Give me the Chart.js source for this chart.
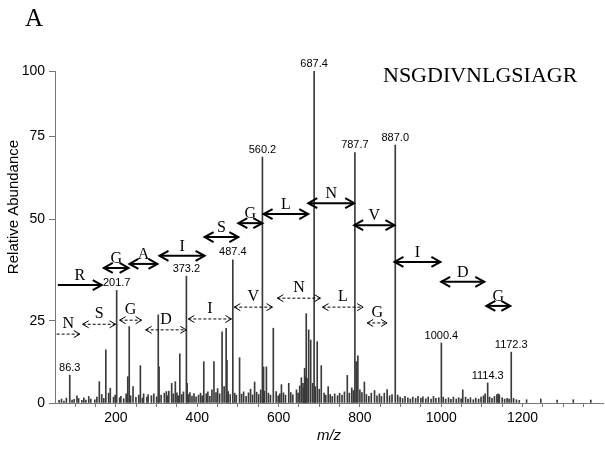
<!DOCTYPE html>
<html>
<head>
<meta charset="utf-8">
<script src="https://cdn.jsdelivr.net/npm/chart.js@4"></script>
<style>
  html, body { margin: 0; padding: 0; background: #fff; }
  canvas { display: block; }
</style>
</head>
<body>
<canvas id="spectrum" width="605" height="449"></canvas>
<script>
// Peptide MS/MS spectrum, panel A

var sequence = 'NSGDIVNLGSIAGR';

// y ticks as printed; the printed axis is uneven, so each tick gets its own spot
var yTickValues = [0, 25, 50, 75, 100];
var xLabelValues = [200, 400, 600, 800, 1000, 1200];

// [m/z, relative abundance]
var peakList = [
  [86.3, 8.5], [159, 6.5], [175, 16.2], [186, 4.5], [201.7, 32.5], [229, 8],
  [232.6, 23.3], [242, 5], [260, 11.4], [304, 26.5], [306, 11], [324, 3.5],
  [337, 6], [346, 6.5], [357, 15], [373.2, 36], [375, 6], [416, 12.6],
  [441, 12.6], [461, 21.7], [471, 22.8], [473, 13], [487.4, 40], [504, 13.8],
  [541, 6.4], [560.2, 68.7], [563, 11], [570, 11], [587, 22.8], [607, 5.6],
  [625, 6], [656, 7.7], [664, 10.6], [668, 26.8], [674, 22.3], [679, 19.2],
  [687.4, 100], [695, 18.7], [705, 11.4], [722, 5], [769, 8.4], [787.7, 70],
  [791, 12.6], [795, 14.4], [811, 6.4], [836, 3.8], [867, 4.1], [887.0, 72.3],
  [1000.4, 18.3], [1053, 4], [1114.3, 6.1], [1143, 2.5], [1172.3, 15.5]
];

// low level background peaks
var noiseList = [
  [60, 0.8], [66, 1.2], [72, 0.6], [78, 1.5], [92, 0.9], [97, 1.1], [104, 2.2],
  [108, 1.4], [116, 0.8], [121, 1.6], [126, 0.9], [133, 2.0], [138, 1.2], [148, 1.0],
  [153, 1.8], [165, 2.6], [170, 1.4], [182, 3.0], [194, 1.8], [198, 2.4], [209, 1.6],
  [212, 2.0], [219, 1.3], [225, 2.8], [236, 2.2], [249, 1.7], [256, 2.4], [265, 1.5],
  [268, 2.8], [276, 1.8], [279, 2.6], [287, 2.2], [293, 2.8], [300, 1.9], [311, 2.4],
  [319, 3.0], [327, 2.2], [330, 3.6], [341, 2.8], [350, 3.1], [353, 2.2], [362, 2.6],
  [366, 3.4], [378, 2.6], [382, 3.2], [387, 2.1], [392, 2.9], [397, 1.9], [403, 2.4],
  [408, 3.0], [412, 2.2], [422, 2.8], [426, 3.4], [431, 2.0], [436, 4.0], [446, 3.2],
  [450, 4.4], [455, 2.8], [466, 5.0], [476, 3.5], [481, 2.6], [492, 3.0], [496, 2.4],
  [509, 2.7], [514, 3.4], [520, 2.0], [526, 3.1], [531, 4.2], [536, 2.5], [546, 3.3],
  [551, 2.6], [556, 4.0], [565, 3.6], [575, 3.0], [580, 2.4], [594, 3.5], [599, 2.2],
  [603, 2.8], [612, 3.1], [617, 2.4], [630, 3.2], [635, 2.5], [644, 4.0], [648, 3.0],
  [652, 5.2], [660, 6.0], [662, 4.5], [666, 8.0], [670, 7.5], [684, 6.0], [690, 5.0],
  [700, 4.2], [712, 3.0], [716, 2.4], [727, 2.6], [732, 2.0], [738, 2.8], [745, 2.2],
  [750, 3.0], [756, 2.4], [762, 3.4], [774, 3.0], [780, 4.6], [784, 3.8], [800, 4.0],
  [805, 3.2], [816, 2.6], [822, 2.0], [828, 3.0], [842, 2.2], [848, 2.8], [853, 2.0],
  [860, 3.0], [873, 2.2], [879, 2.6], [893, 2.4], [899, 1.8], [905, 1.4], [911, 2.0],
  [918, 1.6], [924, 1.2], [930, 1.8], [937, 1.4], [943, 2.0], [950, 1.5], [955, 1.9],
  [962, 1.3], [968, 1.8], [975, 1.2], [981, 2.0], [987, 1.4], [994, 1.6], [1005, 1.8],
  [1011, 1.2], [1018, 1.6], [1024, 1.1], [1030, 1.8], [1037, 1.2], [1043, 1.6],
  [1049, 1.3], [1060, 1.8], [1066, 1.2], [1072, 1.6], [1079, 1.0], [1085, 1.5],
  [1092, 1.2], [1098, 1.8], [1104, 2.2], [1108, 2.8], [1119, 1.8], [1125, 1.4],
  [1131, 2.0], [1137, 2.6], [1140, 2.8], [1150, 1.6], [1156, 1.2], [1162, 1.4],
  [1167, 1.2], [1178, 1.4], [1185, 1.0], [1192, 0.8], [1210, 1.0], [1245, 1.2],
  [1285, 0.9], [1325, 1.0], [1368, 0.9]
];

// peaks that carry their m/z above them
var labelledMz = [86.3, 201.7, 373.2, 487.4, 560.2, 687.4, 787.7, 887.0, 1000.4, 1114.3, 1172.3];

// [residue, from m/z, to m/z, level, heads]
var solidArrows = [
  ['R', 57, 165, 33.8, 'end'],
  ['G', 170, 231, 38],
  ['A', 233, 302, 39],
  ['I', 307, 418, 41],
  ['S', 418, 501, 45.6],
  ['G', 501, 560, 49],
  ['L', 563, 673, 51.5],
  ['N', 673, 786, 54.8],
  ['V', 786, 885, 48.5],
  ['I', 885, 998, 39.5],
  ['D', 1000, 1106, 34.6],
  ['G', 1111, 1170, 28.7]
];
var dashedArrows = [
  ['N', 54, 111, 21, 'end'],
  ['S', 118, 199, 24],
  ['G', 209, 263, 25.2],
  ['D', 273, 373, 22.3],
  ['I', 378, 484, 25.5],
  ['V', 491, 585, 28.4],
  ['N', 597, 703, 30.6],
  ['L', 708, 808, 28.4],
  ['G', 818, 867, 24.4]
];

// fraction of plot height where each y tick sits (the printed axis is not even)
var yTickFractions = [0, 0.247, 0.554, 0.804, 1];

function valueToFraction(v) {
  for (var i = 0; i < yTickValues.length - 1; i++) {
    if (v <= yTickValues[i + 1] || i === yTickValues.length - 2) {
      var t = (v - yTickValues[i]) / (yTickValues[i + 1] - yTickValues[i]);
      return yTickFractions[i] + t * (yTickFractions[i + 1] - yTickFractions[i]);
    }
  }
  return 0;
}
function fractionToValue(f) {
  for (var i = 0; i < yTickFractions.length - 1; i++) {
    if (f <= yTickFractions[i + 1] || i === yTickFractions.length - 2) {
      var t = (f - yTickFractions[i]) / (yTickFractions[i + 1] - yTickFractions[i]);
      return yTickValues[i] + t * (yTickValues[i + 1] - yTickValues[i]);
    }
  }
  return 0;
}

class UnevenScale extends Chart.LinearScale {
  getPixelForValue(value) {
    if (value === null || value === undefined) return NaN;
    return this.getPixelForDecimal(valueToFraction(value));
  }
  getValueForPixel(pixel) {
    return fractionToValue(this.getDecimalForPixel(pixel));
  }
}
UnevenScale.id = 'uneven';
UnevenScale.defaults = Chart.LinearScale.defaults;
Chart.register(UnevenScale);

var allPeaks = peakList.concat(noiseList).sort(function(a, b) { return a[0] - b[0]; });

function findAbundance(mz) {
  for (var i = 0; i < peakList.length; i++) {
    if (peakList[i][0] === mz) return peakList[i][1];
  }
  return 0;
}

function drawArrow(ctx, x1, x2, y, heads, dashed) {
  var len = dashed ? 6 : 9;
  var half = dashed ? 3.5 : 5;
  ctx.save();
  ctx.strokeStyle = '#000';
  ctx.lineWidth = dashed ? 1 : 2;
  ctx.setLineDash(dashed ? [3, 2] : []);
  ctx.beginPath();
  ctx.moveTo(x1, y);
  ctx.lineTo(x2, y);
  ctx.stroke();
  ctx.setLineDash([]);
  ctx.beginPath();
  ctx.moveTo(x2 - len, y - half);
  ctx.lineTo(x2, y);
  ctx.lineTo(x2 - len, y + half);
  if (heads !== 'end') {
    ctx.moveTo(x1 + len, y - half);
    ctx.lineTo(x1, y);
    ctx.lineTo(x1 + len, y + half);
  }
  ctx.stroke();
  ctx.restore();
}

var annotationPlugin = {
  id: 'annotations',
  afterDatasetsDraw: function(chart) {
    var ctx = chart.ctx;
    var xs = chart.scales.x;
    var ys = chart.scales.y;

    // peak m/z labels
    ctx.save();
    ctx.fillStyle = '#000';
    ctx.font = '11px "Liberation Sans", Arial, sans-serif';
    ctx.textAlign = 'center';
    ctx.textBaseline = 'bottom';
    labelledMz.forEach(function(mz) {
      var px = xs.getPixelForValue(mz);
      var py = ys.getPixelForValue(findAbundance(mz));
      ctx.fillText(mz.toFixed(1), px, py - 2);
    });
    ctx.restore();

    // fragment ladders
    ctx.save();
    ctx.fillStyle = '#000';
    ctx.font = '16px "Liberation Serif", "Times New Roman", serif';
    ctx.textAlign = 'center';
    ctx.textBaseline = 'alphabetic';
    solidArrows.forEach(function(a) {
      var x1 = xs.getPixelForValue(a[1]);
      var x2 = xs.getPixelForValue(a[2]);
      var y = ys.getPixelForValue(a[3]);
      drawArrow(ctx, x1, x2, y, a[4], false);
      ctx.fillText(a[0], (x1 + x2) / 2, y - 5);
    });
    dashedArrows.forEach(function(a) {
      var x1 = xs.getPixelForValue(a[1]);
      var x2 = xs.getPixelForValue(a[2]);
      var y = ys.getPixelForValue(a[3]);
      drawArrow(ctx, x1, x2, y, a[4], true);
      ctx.fillText(a[0], (x1 + x2) / 2, y - 6);
    });
    ctx.restore();
  },
  afterDraw: function(chart) {
    var ctx = chart.ctx;
    ctx.save();
    ctx.fillStyle = '#000';
    ctx.textBaseline = 'alphabetic';
    ctx.font = '25px "Liberation Serif", "Times New Roman", serif';
    ctx.fillText('A', 25, 26);
    ctx.font = '22px "Liberation Serif", "Times New Roman", serif';
    ctx.fillText(sequence, 383, 82);
    // y axis title
    ctx.translate(14, 207);
    ctx.rotate(-Math.PI / 2);
    ctx.textAlign = 'center';
    ctx.textBaseline = 'middle';
    ctx.font = '15px "Liberation Sans", Arial, sans-serif';
    ctx.fillText('Relative Abundance', 0, 0);
    ctx.restore();
  }
};

createSpectrum();

function createSpectrum() {
  var ctx = document.getElementById('spectrum').getContext('2d');
  return new Chart(ctx, {
    type: 'bar',
    data: {
      datasets: [{
        data: allPeaks.map(function(p) { return { x: p[0], y: p[1] }; }),
        backgroundColor: '#3a3a3a',
        borderWidth: 0,
        barThickness: 1
      }]
    },
    options: {
      responsive: false,
      animation: false,
      devicePixelRatio: 1,
      layout: { padding: { top: 71, right: 2, left: 0, bottom: 0 } },
      plugins: {
        legend: { display: false },
        tooltip: { enabled: false }
      },
      scales: {
        x: {
          type: 'linear',
          min: 50,
          max: 1398,
          offset: false,
          afterFit: function(scale) { scale.height = 46; },
          // minor tick every 50, label every 200
          afterBuildTicks: function(scale) {
            var ticks = [];
            for (var v = 100; v <= 1350; v += 50) ticks.push({ value: v });
            scale.ticks = ticks;
          },
          border: { color: '#777', width: 1 },
          grid: { offset: false, drawOnChartArea: false, drawTicks: true, tickLength: 4, color: '#777' },
          ticks: {
            autoSkip: false,
            maxRotation: 0,
            minRotation: 0,
            padding: 3,
            color: '#000',
            font: { family: '"Liberation Sans", Arial, sans-serif', size: 14 },
            callback: function(value) {
              return xLabelValues.indexOf(Math.round(value)) >= 0 ? String(Math.round(value)) : '';
            }
          },
          title: {
            display: true,
            text: 'm/z',
            color: '#000',
            padding: { top: 0, bottom: 4 },
            font: { family: '"Liberation Sans", Arial, sans-serif', size: 15, style: 'italic' }
          }
        },
        y: {
          type: 'uneven',
          min: 0,
          max: 100,
          afterFit: function(scale) { scale.width = 55; },
          afterBuildTicks: function(scale) {
            scale.ticks = yTickValues.map(function(v) { return { value: v }; });
          },
          border: { color: '#777', width: 1 },
          grid: { drawOnChartArea: false, drawTicks: true, tickLength: 6, color: '#777' },
          ticks: {
            padding: 4,
            color: '#000',
            font: { family: '"Liberation Sans", Arial, sans-serif', size: 14 }
          }
        }
      }
    },
    plugins: [annotationPlugin]
  });
}
</script>
</body>
</html>
